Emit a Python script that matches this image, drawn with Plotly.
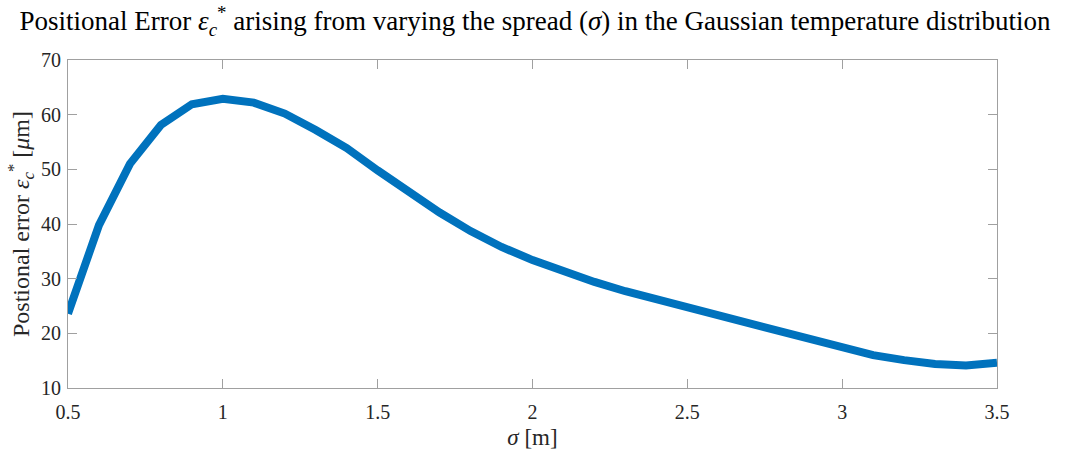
import plotly.graph_objects as go

sigma = [0.5, 0.6, 0.7, 0.8, 0.9, 1.0, 1.1, 1.2, 1.3, 1.4, 1.5, 1.6, 1.7, 1.8, 1.9, 2.0,
         2.1, 2.2, 2.3, 2.4, 2.5, 2.6, 2.7, 2.8, 2.9, 3.0, 3.1, 3.2, 3.3, 3.4, 3.5]
err = [23.6, 39.8, 51.0, 58.1, 61.9, 62.9, 62.2, 60.2, 57.2, 53.9, 49.8, 45.9, 42.1, 38.7, 35.8, 33.4,
       31.3, 29.4, 27.7, 26.2, 24.8, 23.4, 21.9, 20.4, 18.9, 17.4, 16.0, 15.1, 14.4, 14.1, 14.6]

xticks = [0.5, 1, 1.5, 2, 2.5, 3, 3.5]
xticklabels = ["0.5", "1", "1.5", "2", "2.5", "3", "3.5"]
yticks = [10, 20, 30, 40, 50, 60, 70]

FONT = "Liberation Serif, serif"

fig = go.Figure()
fig.add_trace(go.Scatter(x=sigma, y=err, mode="lines",
                         line=dict(color="#0072BD", width=8), showlegend=False))

axis_common = dict(showgrid=False, zeroline=False, showline=True, linecolor="#a0a0a0",
                   linewidth=1, mirror="ticks", ticks="inside", ticklen=9, tickcolor="#a0a0a0",
                   automargin=False,
                   tickfont=dict(family=FONT, size=20, color="#262626"))

fig.update_layout(
    width=1070, height=450,
    margin=dict(l=68, r=73, t=60, b=62, autoexpand=False),
    paper_bgcolor="white", plot_bgcolor="white",
    font=dict(family=FONT),
    title=dict(text="Positional Error <i>ε</i><sub><i>c</i></sub><sup>*</sup> arising from varying the spread (<i>σ</i>) in the Gaussian temperature distribution",
               x=0.5, xanchor="center", y=1 - 21 / 450, yanchor="middle",
               font=dict(family=FONT, size=27, color="black")),
    xaxis=dict(range=[0.5, 3.5], tickvals=xticks, ticktext=xticklabels, ticklabelstandoff=6,
               title=dict(text="<i>σ</i> [m]", font=dict(family=FONT, size=23, color="#262626"), standoff=6),
               **axis_common),
    yaxis=dict(range=[10, 70], tickvals=yticks, ticklabelstandoff=2,
               title=dict(text="Postional error <i>ε</i><sub><i>c</i></sub><sup>*</sup> [<i>μ</i>m]",
                          font=dict(family=FONT, size=24, color="#262626"), standoff=4),
               **axis_common),
)

fig.write_html("out.html")
